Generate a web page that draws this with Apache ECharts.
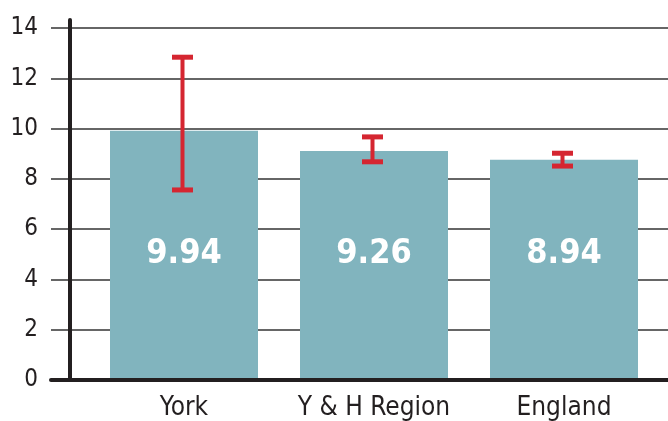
<!DOCTYPE html>
<html>
<head>
<meta charset="utf-8">
<script src="https://cdn.jsdelivr.net/npm/echarts@6/dist/echarts.min.js"></script>
<style>
  html, body { margin: 0; padding: 0; background: #fff; }
  #chart { width: 668px; height: 421px; }
</style>
</head>
<body>
<div id="chart"></div>
<script>
// data
const categories = ['York', 'Y & H Region', 'England']
const barValues = [9.91, 9.11, 8.76]
const barLabels = ['9.94', '9.26', '8.94']
const errLow = [7.56, 8.68, 8.51]
const errHigh = [12.84, 9.67, 9.02]
const yTicks = { min: 0, max: 14, interval: 2 }

const font = "'DejaVu Sans Condensed', 'Liberation Sans Narrow', Roboto, sans-serif"
const ink = '#231f20'
const red = '#d52631'

const chart = echarts.init(document.getElementById('chart'))

chart.setOption({
  animation: false,
  backgroundColor: '#fff',
  grid: [
    // bars + vertical axis line
    { left: 89, right: 9, top: 20, bottom: 41 },
    // horizontal rules, tick labels, base line
    { left: 51, right: 0, top: 28, bottom: 41 },
  ],
  xAxis: [
    {
      type: 'category',
      gridIndex: 0,
      data: categories,
      axisLine: { show: false },
      axisTick: { show: false },
      axisLabel: { interval: 0, fontFamily: font, fontSize: 26, color: ink, margin: 15 },
    },
    {
      type: 'value',
      gridIndex: 1,
      min: 0,
      max: 1,
      z: 5,
      axisLabel: { show: false },
      axisTick: { show: false },
      splitLine: { show: false },
      axisLine: { show: true, lineStyle: { color: ink, width: 4 } },
    },
  ],
  yAxis: [
    {
      type: 'value',
      gridIndex: 0,
      min: 0,
      max: 14.32,
      offset: 19,
      z: 5,
      axisLabel: { show: false },
      axisTick: { show: false },
      splitLine: { show: false },
      axisLine: { show: true, lineStyle: { color: ink, width: 4 } },
    },
    {
      type: 'value',
      gridIndex: 1,
      min: yTicks.min,
      max: yTicks.max,
      interval: yTicks.interval,
      axisLine: { show: false },
      axisTick: { show: false },
      axisLabel: {
        fontFamily: font,
        fontSize: 24,
        color: ink,
        margin: 13,
        padding: [0, 0, 7, 0],
      },
      splitLine: { lineStyle: { color: '#333', width: 1.5 } },
    },
  ],
  series: [
    {
      type: 'bar',
      xAxisIndex: 0,
      yAxisIndex: 0,
      barWidth: 148,
      data: barValues,
      itemStyle: { color: '#81b4be' },
      label: {
        show: true,
        position: 'insideBottom',
        distance: 106,
        formatter: (p) => barLabels[p.dataIndex],
        fontFamily: font,
        fontWeight: 'bold',
        fontSize: 34,
        lineHeight: 40,
        color: '#fff',
      },
    },
    {
      type: 'custom',
      xAxisIndex: 0,
      yAxisIndex: 0,
      z: 4,
      data: categories.map((c, i) => [i, errLow[i], errHigh[i]]),
      renderItem: (params, api) => {
        const i = api.value(0)
        const lo = api.coord([i, api.value(1)])
        const hi = api.coord([i, api.value(2)])
        const half = 10.5
        const x = lo[0] - 1.5
        return {
          type: 'group',
          children: [
            { type: 'line', shape: { x1: x, y1: hi[1], x2: x, y2: lo[1] }, style: { stroke: red, lineWidth: 4 } },
            { type: 'line', shape: { x1: x - half, y1: hi[1], x2: x + half, y2: hi[1] }, style: { stroke: red, lineWidth: 5 } },
            { type: 'line', shape: { x1: x - half, y1: lo[1], x2: x + half, y2: lo[1] }, style: { stroke: red, lineWidth: 5 } },
          ],
        }
      },
    },
  ],
})
</script>
</body>
</html>
